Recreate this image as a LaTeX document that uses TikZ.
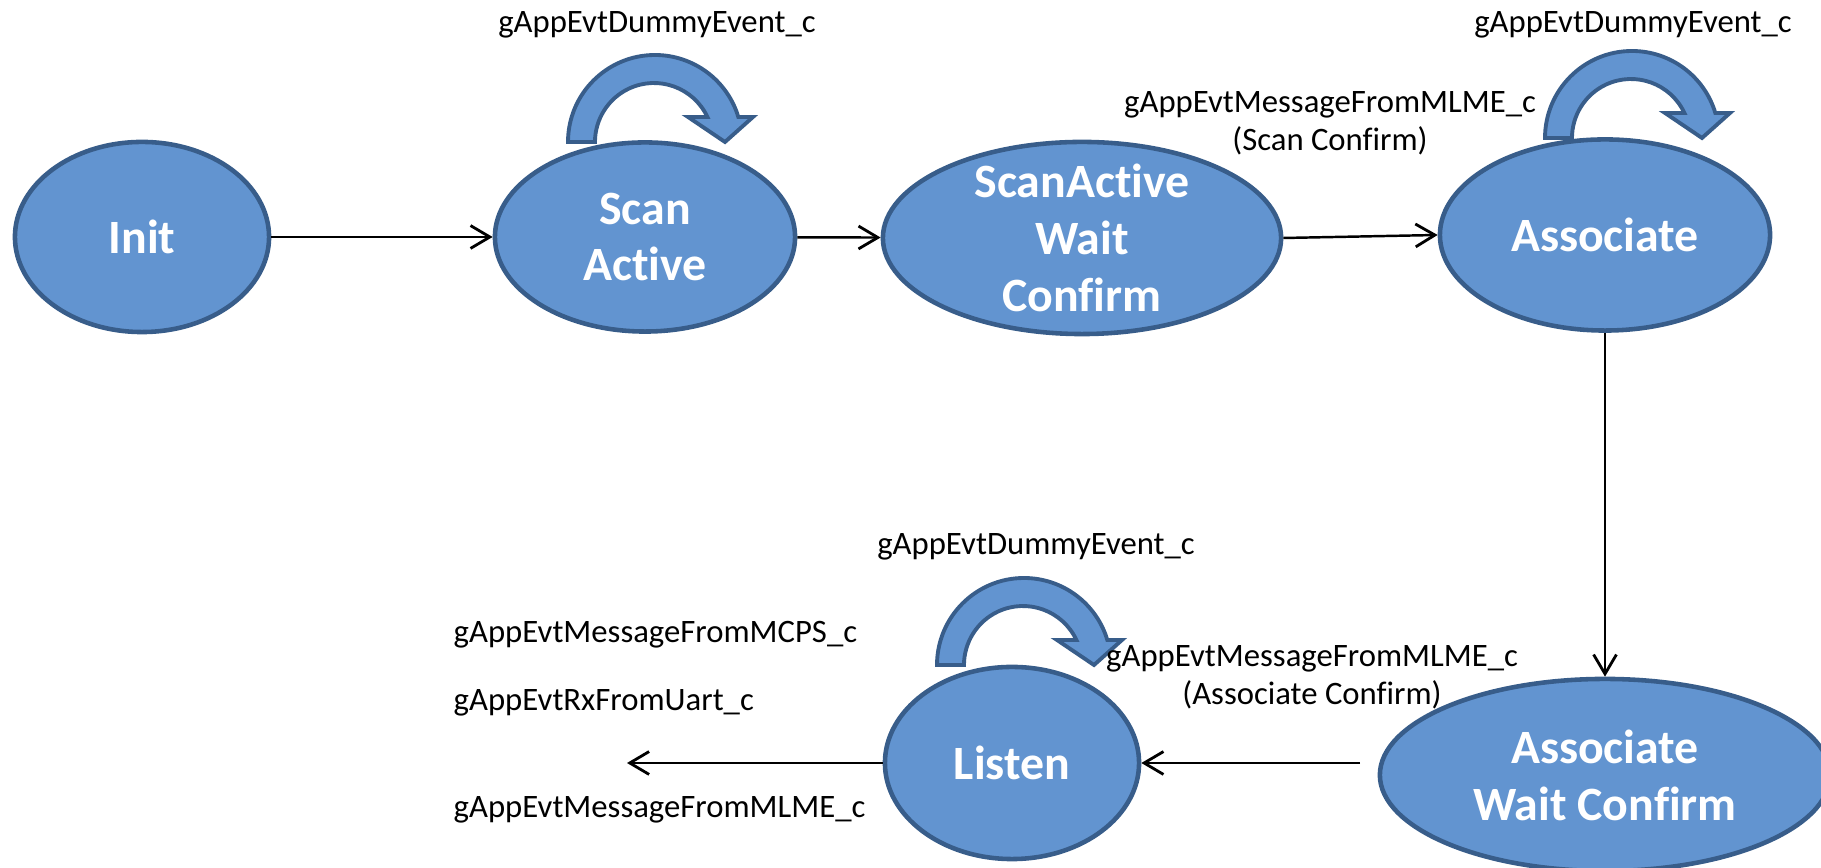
\documentclass[tikz,border=0pt]{standalone}
\usepackage{fontspec}
\setmainfont{Carlito}[Ligatures=NoCommon]
\usetikzlibrary{arrows.meta,shapes.geometric,calc}
\definecolor{stfill}{RGB}{98,148,208}
\definecolor{stline}{RGB}{56,93,138}

\tikzset{
  % curved self-transition arrow sitting on top of a state
  selfloop/.pic={
    \path[loopband] (0,0) arc[start angle=180,end angle=343.3,radius=87]
      -- (185,-25) -- (157,0) -- (120,-25) -- (139.4,-25)
      arc[start angle=334.9,end angle=180,radius=59] -- cycle;
  }
}

\begin{document}
\begin{tikzpicture}[x=0.01cm,y=-0.01cm,
  state/.style={ellipse, draw=stline, fill=stfill, line width=1.3pt, inner sep=0pt},
  statetext/.style={text=white, font=\bfseries\fontsize{13.6}{16.2}\selectfont, align=center, inner sep=0pt},
  evt/.style={font=\fontsize{9.3}{10.8}\selectfont, inner sep=0pt, align=center},
  conn/.style={line width=0.7pt, -{Straight Barb[length=5.5pt,width=6.5pt,line width=0.8pt]}},
  loopband/.style={fill=stfill, draw=stline, line width=1.1pt, line join=miter}]

\useasboundingbox (0,0) rectangle (1821,868);
\clip (0,0) rectangle (1821,868);

% self-transitions (drawn first so the states overlap their feet)
\pic at (568,142) {selfloop};
\pic at (1545,138) {selfloop};
\pic at (937,665) {selfloop};

% states
\node[state, minimum width=2.54cm, minimum height=1.90cm] (init)   at (142,237)  {};
\node[state, minimum width=3.00cm, minimum height=1.89cm] (scan)   at (645,237)  {};
\node[state, minimum width=3.98cm, minimum height=1.92cm] (sawc)   at (1082,238) {};
\node[state, minimum width=3.30cm, minimum height=1.91cm] (assoc)  at (1605,235) {};
\node[state, minimum width=4.50cm, minimum height=1.92cm] (awc)    at (1605,775) {};
\node[state, minimum width=2.54cm, minimum height=1.92cm] (listen) at (1012,763) {};

\node[statetext] (init-t)   at (init)   {Init};
\node[statetext] (scan-t)   at (scan)   {Scan\\Active};
\node[statetext] (sawc-t)   at (sawc)   {ScanActive\\Wait\\Confirm};
\node[statetext] (assoc-t)  at (assoc)  {Associate};
\node[statetext] (awc-t)    at (awc)    {Associate\\Wait Confirm};
\node[statetext] (listen-t) at (listen) {Listen};

% transitions
\coordinate (awcout) at (1360,763);
\coordinate (rxout) at (627,763);
\draw[conn] (init) -- (scan);
\draw[conn] (scan) -- (sawc);
\draw[conn] (sawc.east) -- (assoc.west);
\draw[conn] (assoc.south) -- (awc.north);
\draw[conn] (awcout) -- (listen.east);
\draw[conn] (listen.west) -- (rxout);

% event labels
\node[evt] (l-scan-dummy)   at (657,25)   {gAppEvtDummyEvent\_c};
\node[evt] (l-assoc-dummy)  at (1633,25)  {gAppEvtDummyEvent\_c};
\node[evt] (l-listen-dummy) at (1036,547) {gAppEvtDummyEvent\_c};
\node[evt] (l-scancnf)  at (1330,123.5) {gAppEvtMessageFromMLME\_c\\(Scan Confirm)};
\node[evt] (l-asscnf)   at (1312,677.5) {gAppEvtMessageFromMLME\_c\\(Associate Confirm)};
\node[evt, anchor=west] (l-mcps) at (453,635) {gAppEvtMessageFromMCPS\_c};
\node[evt, anchor=west] (l-uart) at (453,703) {gAppEvtRxFromUart\_c};
\node[evt, anchor=west] (l-mlme) at (453,810) {gAppEvtMessageFromMLME\_c};
\end{tikzpicture}
\end{document}
